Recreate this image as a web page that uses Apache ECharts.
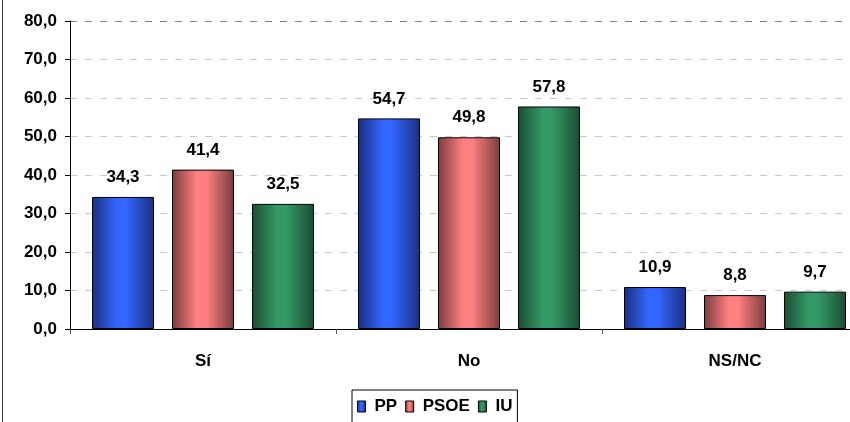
<!DOCTYPE html>
<html lang="es">
<head>
<meta charset="UTF-8">
<title>Encuesta</title>
<script src="https://cdn.jsdelivr.net/npm/echarts@6/dist/echarts.min.js"></script>
<style>
  html, body { margin: 0; padding: 0; background: #fff; }
  #chart { width: 850px; height: 422px; }
</style>
</head>
<body>
<div id="chart"></div>
<script>
var categories = ['Sí', 'No', 'NS/NC'];
var seriesNames = ['PP', 'PSOE', 'IU'];
var ppValues = [34.3, 54.7, 10.9];
var psoeValues = [41.4, 49.8, 8.8];
var iuValues = [32.5, 57.8, 9.7];
var yTicks = [0, 10, 20, 30, 40, 50, 60, 70, 80];

// colores: borde oscuro, centro claro
var shades = [
  ['#1a2f80', '#3366ff', '#1a2f80'],
  ['#7a3c3c', '#ff8080', '#7a3c3c'],
  ['#1a4d33', '#339966', '#1a4d33']
];

function grad(c) {
  return new echarts.graphic.LinearGradient(0, 0, 1, 0, [
    { offset: 0, color: c[0] },
    { offset: 0.4, color: c[1] },
    { offset: 0.55, color: c[1] },
    { offset: 1, color: c[2] }
  ]);
}

function fmt(v) {
  return v.toFixed(1).replace('.', ',');
}

var font = 'Liberation Sans, Arial';
var allValues = [ppValues, psoeValues, iuValues];
var series = seriesNames.map(function (name, i) {
  return {
    name: name,
    type: 'bar',
    barWidth: 62,
    barGap: '29%',
    data: allValues[i],
    itemStyle: { color: grad(shades[i]), borderColor: '#000', borderWidth: 1 },
    label: {
      show: true,
      position: 'top',
      distance: 11,
      color: '#000',
      fontFamily: font,
      fontWeight: 'bold',
      fontSize: 17,
      formatter: function (p) { return fmt(p.value); }
    }
  };
});

var chart = echarts.init(document.getElementById('chart'));
chart.setOption({
  animation: false,
  color: ['#3366ff', '#ff8080', '#339966'],
  // el área de trazado sigue más allá del borde derecho
  grid: { left: 70, width: 798, top: 21, bottom: 93, outerBoundsMode: 'none', containLabel: false },
  legend: {
    data: seriesNames,
    left: 352,
    top: 390,
    padding: [8, 5, 8, 5],
    borderColor: '#000',
    borderWidth: 1,
    itemGap: 8,
    itemWidth: 8,
    itemHeight: 11,
    icon: 'rect',
    itemStyle: { borderColor: '#000', borderWidth: 1 },
    textStyle: { fontFamily: font, fontWeight: 'bold', fontSize: 17, color: '#000', padding: [0, 0, 0, 4] }
  },
  xAxis: {
    type: 'category',
    data: categories,
    axisLine: { lineStyle: { color: '#000', width: 1 } },
    axisTick: { show: true, length: 5, lineStyle: { color: '#555' } },
    axisLabel: { margin: 24, color: '#000', fontFamily: font, fontWeight: 'bold', fontSize: 17 }
  },
  yAxis: {
    type: 'value',
    min: yTicks[0],
    max: yTicks[yTicks.length - 1],
    interval: 10,
    axisLine: { show: true, lineStyle: { color: '#000', width: 1 } },
    axisTick: { show: true, length: 5, lineStyle: { color: '#000' } },
    axisLabel: {
      margin: 13, color: '#000', fontFamily: font, fontWeight: 'bold', fontSize: 17,
      formatter: function (v) { return fmt(v); }
    },
    splitLine: {
      show: true,
      lineStyle: {
        color: ['#c8c8c8', '#c8c8c8', '#c8c8c8', '#c8c8c8', '#c8c8c8', '#c8c8c8', '#c8c8c8', '#c8c8c8', '#888'],
        type: [7, 8],
        width: 1
      }
    }
  },
  graphic: [
    { type: 'line', shape: { x1: 2.5, y1: 0, x2: 2.5, y2: 422 }, style: { stroke: '#333', lineWidth: 1 } }
  ],
  series: series
});
</script>
</body>
</html>
